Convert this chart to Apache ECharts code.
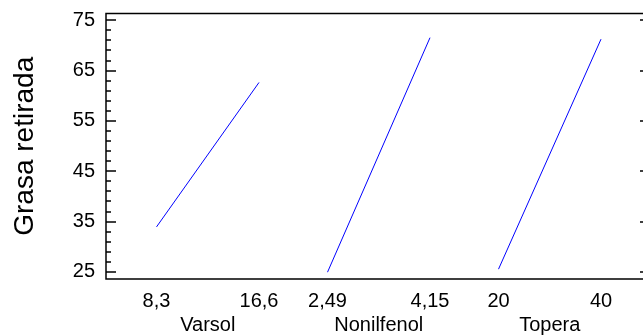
<!DOCTYPE html>
<html>
<head>
<meta charset="utf-8">
<script src="https://cdn.jsdelivr.net/npm/echarts@6/dist/echarts.min.js"></script>
<style>
html,body{margin:0;padding:0;background:#fff;}
#chart{width:643px;height:335px;}
</style>
</head>
<body>
<div id="chart"></div>
<script>
// ---- data ----
const factorNames = ['Varsol', 'Nonilfenol', 'Topera'];
const varsolLevels = ['8,3', '16,6'];
const varsolMeans = [33.9, 62.6];
const nonilfenolLevels = ['2,49', '4,15'];
const nonilfenolMeans = [24.9, 71.5];
const toperaLevels = ['20', '40'];
const toperaMeans = [25.5, 71.2];
const yMajorTicks = [25, 35, 45, 55, 65, 75];
const yMinorTicks = [27, 29, 31, 33, 37, 39, 41, 43, 47, 49, 51, 53, 57, 59, 61, 63, 67, 69, 71, 73];
const yTitle = 'Grasa retirada';

// ---- layout ----
const FONT = 'Liberation Sans, Arial, sans-serif';
const Y_MIN = 23.55, Y_MAX = 76.3;
const TOP = 13.5, BOTTOM = 56;
const segLefts = [156.5, 327.5, 498.5];
const segWidth = 102.5;
const levelsList = [varsolLevels, nonilfenolLevels, toperaLevels];
const meansList = [varsolMeans, nonilfenolMeans, toperaMeans];

const chart = echarts.init(document.getElementById('chart'), null, {renderer: 'canvas'});

const grids = [
  {left: 106, width: 544, top: TOP, bottom: BOTTOM, outerBoundsMode: 'none', containLabel: false,
   show: true, borderColor: '#000', borderWidth: 1.5, backgroundColor: 'transparent'},
  {left: 106, width: 544, top: TOP, bottom: BOTTOM, outerBoundsMode: 'none', containLabel: false}
];
const xAxes = [
  {gridIndex: 0, type: 'value', show: false, min: 0, max: 1},
  {gridIndex: 1, type: 'value', show: false, min: 0, max: 1}
];
const yAxes = [
  {gridIndex: 0, type: 'value', position: 'left', min: Y_MIN, max: Y_MAX,
   name: yTitle, nameLocation: 'middle', nameRotate: 90, nameGap: 67,
   nameTextStyle: {fontFamily: FONT, fontSize: 28, color: '#000'},
   axisLine: {show: false}, splitLine: {show: false},
   axisTick: {show: true, inside: true, length: 10, customValues: yMajorTicks, lineStyle: {color: '#000', width: 1.5}},
   axisLabel: {show: true, margin: 11, customValues: yMajorTicks, fontFamily: FONT, fontSize: 20, color: '#000'}},
  {gridIndex: 0, type: 'value', position: 'right', min: Y_MIN, max: Y_MAX,
   axisLine: {show: false}, splitLine: {show: false},
   axisTick: {show: true, inside: true, length: 10, customValues: yMajorTicks, lineStyle: {color: '#000', width: 1.5}},
   axisLabel: {show: false}},
  {gridIndex: 1, type: 'value', position: 'left', min: Y_MIN, max: Y_MAX,
   axisLine: {show: false}, splitLine: {show: false},
   axisTick: {show: true, inside: true, length: 5, customValues: yMinorTicks, lineStyle: {color: '#000', width: 1.5}},
   axisLabel: {show: false}},
  {gridIndex: 1, type: 'value', position: 'right', min: Y_MIN, max: Y_MAX,
   axisLine: {show: false}, splitLine: {show: false},
   axisTick: {show: true, inside: true, length: 5, customValues: yMinorTicks, lineStyle: {color: '#000', width: 1.5}},
   axisLabel: {show: false}}
];
const series = [];

factorNames.forEach(function (name, i) {
  const gi = grids.length;
  grids.push({left: segLefts[i], width: segWidth, top: TOP, bottom: BOTTOM, outerBoundsMode: 'none', containLabel: false});
  xAxes.push({gridIndex: gi, type: 'category', data: levelsList[i], boundaryGap: false,
    name: name, nameLocation: 'middle', nameGap: 33,
    nameTextStyle: {fontFamily: FONT, fontSize: 20, color: '#000'},
    axisLine: {show: false}, axisTick: {show: false}, splitLine: {show: false},
    axisLabel: {show: true, margin: 12, interval: 0, fontFamily: FONT, fontSize: 20, color: '#000'}});
  yAxes.push({gridIndex: gi, type: 'value', show: false, min: Y_MIN, max: Y_MAX, splitLine: {show: false}});
  series.push({type: 'line', xAxisIndex: xAxes.length - 1, yAxisIndex: yAxes.length - 1,
    data: meansList[i], symbol: 'none', silent: true,
    lineStyle: {color: '#0000ff', width: 1}});
});

chart.setOption({
  animation: false,
  backgroundColor: '#fff',
  grid: grids,
  xAxis: xAxes,
  yAxis: yAxes,
  series: series
});
</script>
</body>
</html>
